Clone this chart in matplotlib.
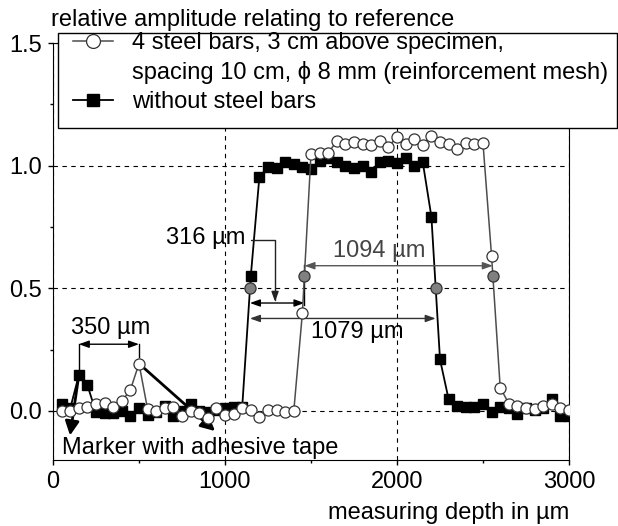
import numpy as np
import matplotlib
matplotlib.use('Agg')
import matplotlib.pyplot as plt
from matplotlib.lines import Line2D
from matplotlib.patches import Rectangle
from matplotlib.ticker import MultipleLocator, FormatStrFormatter

plt.rcParams['font.family'] = ['Liberation Sans', 'DejaVu Sans']
plt.rcParams['font.size'] = 17

# measuring depth in um (every 50 um)
depth = np.arange(50, 3001, 50)

# without steel bars (black squares)
amp_bare = [0.03, 0.01, 0.145, 0.105, -0.005, -0.01, -0.01, 0.0, -0.02, 0.012,
            -0.015, -0.005, 0.02, -0.02, 0.0, 0.028, 0.0, -0.005, 0.005, 0.012,
            0.015, 0.015, 0.55, 0.955, 0.993, 0.99, 1.013, 1.008, 0.993, 0.985,
            1.02, 1.03, 1.013, 1.0, 0.99, 1.0, 0.973, 1.013, 1.02, 1.01,
            1.032, 1.0, 1.013, 0.792, 0.21, 0.048, 0.022, 0.015, 0.015, 0.03,
            -0.003, 0.015, 0.01, -0.013, 0.01, 0.005, 0.01, 0.048, -0.02, -0.02]

# 4 steel bars above specimen (open circles)
amp_mesh = [0.0, 0.0, 0.011, 0.016, 0.03, 0.034, 0.016, 0.04, 0.086, 0.193,
            0.007, 0.0, 0.011, 0.016, -0.02, 0.0, -0.007, -0.027, 0.011, -0.018,
            -0.014, 0.01, 0.003, -0.024, 0.003, 0.003, -0.003, 0.0, 0.4, 1.048,
            1.052, 1.052, 1.10, 1.088, 1.095, 1.088, 1.086, 1.102, 1.078, 1.116,
            1.09, 1.108, 1.086, 1.122, 1.095, 1.088, 1.068, 1.091, 1.09, 1.091,
            0.63, 0.095, 0.03, 0.02, 0.013, 0.007, 0.02, 0.027, 0.013, 0.005]

# half-amplitude points (grey)
half_x = [1145, 1462, 2225, 2557]
half_y = [0.5, 0.55, 0.5, 0.55]

fig = plt.figure(figsize=(6.18, 5.26), dpi=100)
ax = fig.add_axes([53/618, 66/526, 516/618, 417/526])

ax.plot(depth, amp_bare, '-', color='k', lw=1.3, marker='s', ms=7,
        mfc='k', mec='k', zorder=3)
ax.plot(depth, amp_mesh, '-', color='#4d4d4d', lw=1.1, marker='o', ms=8,
        mfc='white', mec='#333333', mew=0.9, zorder=4)
ax.plot(half_x, half_y, 'o', ms=8, mfc='#808080', mec='#333333', mew=0.9,
        zorder=6)

ax.set_xlim(0, 3000)
ax.set_ylim(-0.2, 1.5)
ax.xaxis.set_major_locator(MultipleLocator(1000))
ax.xaxis.set_minor_locator(MultipleLocator(500))
ax.yaxis.set_major_locator(MultipleLocator(0.5))
ax.yaxis.set_minor_locator(MultipleLocator(0.25))
ax.yaxis.set_major_formatter(FormatStrFormatter('%.1f'))
ax.tick_params(which='major', direction='out', length=3.6, width=1, pad=4.5)
ax.tick_params(which='minor', direction='out', length=2.2, width=1)
ax.set_axisbelow(True)
ax.grid(True, which='major', color='k', lw=0.8, ls=(0, (4, 4)))

# 350 um between markers
dbl = dict(arrowstyle='<|-|>,head_length=0.5,head_width=0.18', color='k',
           lw=1, shrinkA=0, shrinkB=0, mutation_scale=12)
ax.annotate('', xy=(depth[2], 0.272), xytext=(depth[9], 0.272), arrowprops=dbl)
ax.plot([depth[2]] * 2, [0.272, amp_bare[2] + 0.02], color='k', lw=1)
ax.plot([depth[9]] * 2, [0.272, amp_mesh[9] + 0.025], color='k', lw=1)
ax.text(337, 0.314, '350 µm', ha='center', va='baseline')

# 316 um shift
ax.annotate('', xy=(half_x[0], 0.44), xytext=(half_x[1], 0.44), arrowprops=dbl)
ax.plot([half_x[1]] * 2, [0.595, 0.43], color='k', lw=1)
ax.annotate('316 µm', xy=(1291, 0.445), xytext=(1116, 0.682), ha='right',
            va='baseline',
            arrowprops=dict(arrowstyle='-|>,head_length=0.5,head_width=0.18',
                            color='#222222', lw=1, mutation_scale=12,
                            shrinkA=2, shrinkB=0, relpos=(1, 0.4),
                            connectionstyle='angle,angleA=0,angleB=90,rad=0'))

# 1079 um width without bars
dbl_g = dict(dbl, color='#333333')
ax.annotate('', xy=(half_x[0], 0.377), xytext=(half_x[2], 0.377), arrowprops=dbl_g)
ax.text(1767, 0.298, '1079 µm', ha='center', va='baseline')

# 1094 um width with bars
dbl_g2 = dict(dbl, color='#555555')
ax.annotate('', xy=(half_x[1], 0.592), xytext=(half_x[3], 0.592), arrowprops=dbl_g2)
ax.text(1895, 0.629, '1094 µm', ha='center', va='baseline', color='#444444')

# marker arrows
thick = dict(arrowstyle='-|>,head_length=0.6,head_width=0.3', color='k',
             lw=2, shrinkA=0, shrinkB=0, mutation_scale=14)
ax.annotate('', xy=(99, -0.10), xytext=(depth[2], amp_bare[2]), arrowprops=thick)
ax.annotate('', xy=(942, -0.082), xytext=(depth[9], amp_mesh[9]), arrowprops=thick)
ax.text(52, -0.174, 'Marker with adhesive tape', ha='left', va='baseline')

# axis titles
fig.text(51/618, 1 - 26/526, 'relative amplitude relating to reference',
         ha='left', va='baseline')
fig.text(328/618, 1 - 519/526, 'measuring depth in µm', ha='left', va='baseline')

# legend with box
fig.add_artist(Rectangle((58/618, 1 - 128/526), 559/618, 95/526,
                         transform=fig.transFigure, facecolor='white',
                         edgecolor='k', lw=1, zorder=5))
handles = [Line2D([], [], color='#4d4d4d', lw=1.1, marker='o', ms=10,
                  mfc='white', mec='#333333', mew=0.9),
           Line2D([], [], ls='none'),
           Line2D([], [], color='k', lw=1.3, marker='s', ms=9, mfc='k', mec='k')]
labels = ['4 steel bars, 3 cm above specimen,',
          'spacing 10 cm, ϕ 8 mm (reinforcement mesh)',
          'without steel bars']
leg = fig.legend(handles, labels, loc='upper left',
                 bbox_to_anchor=(73/618, 1 - 32/526), frameon=False,
                 borderpad=0, borderaxespad=0, handlelength=1.7,
                 handletextpad=0.8, labelspacing=0.3)
leg.set_zorder(6)

fig.savefig('out.png', dpi=100)
